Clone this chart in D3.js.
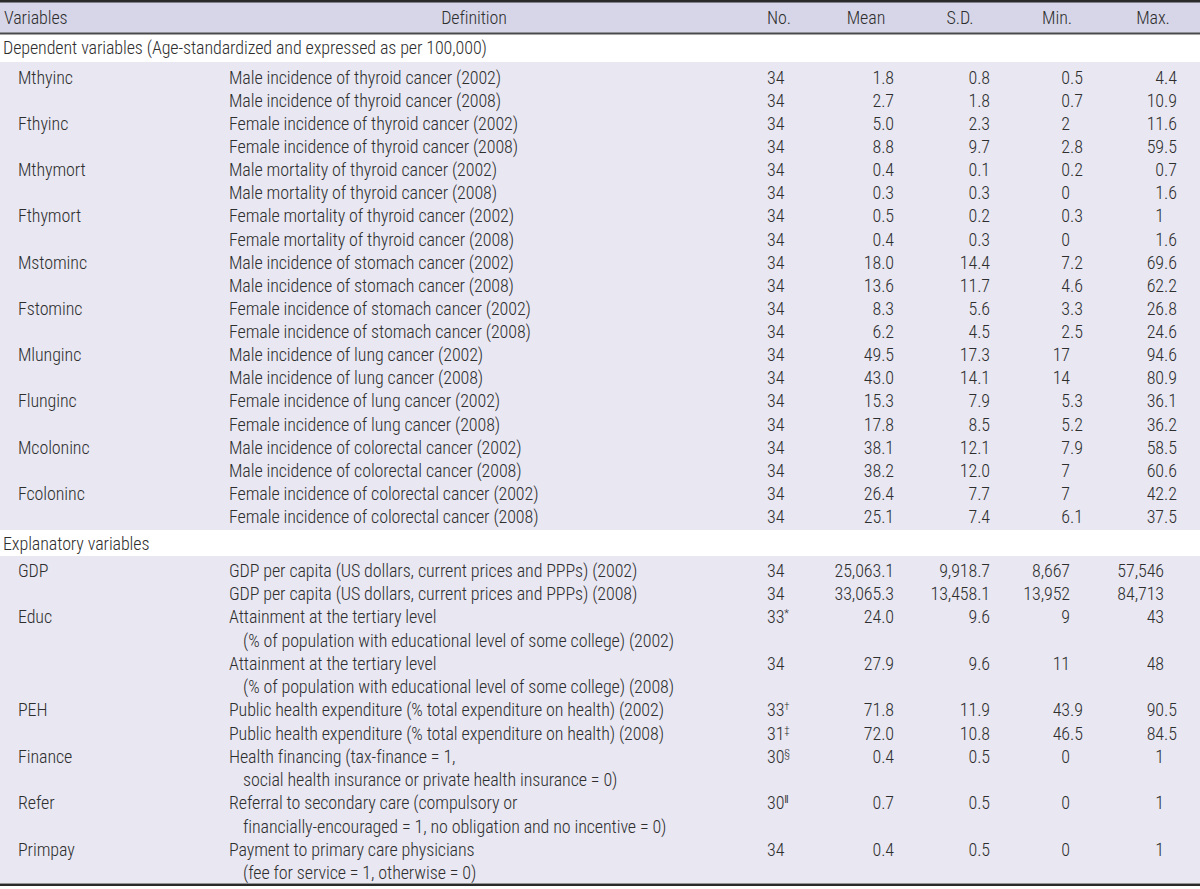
<!DOCTYPE html>
<html>
<head>
<meta charset="utf-8">
<script src="https://cdn.jsdelivr.net/npm/d3@7"></script>
<style>
  html, body { margin: 0; padding: 0; background: #ffffff; }
  svg { display: block; }
</style>
</head>
<body>
<svg id="chart" width="1200" height="889"></svg>
<script>
// ---------------- DATA ----------------
const headers = ["Variables", "Definition", "No.", "Mean", "S.D.", "Min.", "Max."];

const sectionTitles = [
  "Dependent variables (Age-standardized and expressed as per 100,000)",
  "Explanatory variables"
];

const rowSection = [
  0,0,0,0,0,0,0,0,0,0,0,0,0,0,0,0,0,0,0,0,
  1,1,1,1,1,1,1,1,1
];

const rowVariable = [
  "Mthyinc", "", "Fthyinc", "", "Mthymort", "", "Fthymort", "",
  "Mstominc", "", "Fstominc", "", "Mlunginc", "", "Flunginc", "",
  "Mcoloninc", "", "Fcoloninc", "",
  "GDP", "", "Educ", "", "PEH", "", "Finance", "Refer", "Primpay"
];

const rowDefinition = [
  "Male incidence of thyroid cancer (2002)",
  "Male incidence of thyroid cancer (2008)",
  "Female incidence of thyroid cancer (2002)",
  "Female incidence of thyroid cancer (2008)",
  "Male mortality of thyroid cancer (2002)",
  "Male mortality of thyroid cancer (2008)",
  "Female mortality of thyroid cancer (2002)",
  "Female mortality of thyroid cancer (2008)",
  "Male incidence of stomach cancer (2002)",
  "Male incidence of stomach cancer (2008)",
  "Female incidence of stomach cancer (2002)",
  "Female incidence of stomach cancer (2008)",
  "Male incidence of lung cancer (2002)",
  "Male incidence of lung cancer (2008)",
  "Female incidence of lung cancer (2002)",
  "Female incidence of lung cancer (2008)",
  "Male incidence of colorectal cancer (2002)",
  "Male incidence of colorectal cancer (2008)",
  "Female incidence of colorectal cancer (2002)",
  "Female incidence of colorectal cancer (2008)",
  "GDP per capita (US dollars, current prices and PPPs) (2002)",
  "GDP per capita (US dollars, current prices and PPPs) (2008)",
  "Attainment at the tertiary level\n(% of population with educational level of some college) (2002)",
  "Attainment at the tertiary level\n(% of population with educational level of some college) (2008)",
  "Public health expenditure (% total expenditure on health) (2002)",
  "Public health expenditure (% total expenditure on health) (2008)",
  "Health financing (tax-finance = 1,\nsocial health insurance or private health insurance = 0)",
  "Referral to secondary care (compulsory or\nfinancially-encouraged = 1, no obligation and no incentive = 0)",
  "Payment to primary care physicians\n(fee for service = 1, otherwise = 0)"
];

const rowN = [
  34,34,34,34,34,34,34,34,34,34,34,34,34,34,34,34,34,34,34,34,
  34,34,33,34,33,31,30,30,34
];

const rowNote = [
  "","","","","","","","","","","","","","","","","","","","",
  "","","*","","\u2020","\u2021","\u00A7","\u2016",""
];

const rowMean = [
  1.8, 2.7, 5.0, 8.8, 0.4, 0.3, 0.5, 0.4, 18.0, 13.6,
  8.3, 6.2, 49.5, 43.0, 15.3, 17.8, 38.1, 38.2, 26.4, 25.1,
  25063.1, 33065.3, 24.0, 27.9, 71.8, 72.0, 0.4, 0.7, 0.4
];

const rowSD = [
  0.8, 1.8, 2.3, 9.7, 0.1, 0.3, 0.2, 0.3, 14.4, 11.7,
  5.6, 4.5, 17.3, 14.1, 7.9, 8.5, 12.1, 12.0, 7.7, 7.4,
  9918.7, 13458.1, 9.6, 9.6, 11.9, 10.8, 0.5, 0.5, 0.5
];

const rowMin = [
  0.5, 0.7, 2, 2.8, 0.2, 0, 0.3, 0, 7.2, 4.6,
  3.3, 2.5, 17, 14, 5.3, 5.2, 7.9, 7, 7, 6.1,
  8667, 13952, 9, 11, 43.9, 46.5, 0, 0, 0
];

const rowMax = [
  4.4, 10.9, 11.6, 59.5, 0.7, 1.6, 1, 1.6, 69.6, 62.2,
  26.8, 24.6, 94.6, 80.9, 36.1, 36.2, 58.5, 60.6, 42.2, 37.5,
  57546, 84713, 43, 48, 90.5, 84.5, 1, 1, 1
];

// ---------------- LAYOUT ----------------
const W = 1200, H = 889;
const textColor = "#2e2e2e";
const headerFill = "#d7d6e8";
const bodyFill = "#e8e7f2";
const fontWeight = 300;

const svg = d3.select("#chart");

// font selection (measure which condensed family is installed)
const probe = svg.append("text").attr("x", -2000).attr("y", -2000)
  .style("font-size", "20px").style("font-weight", fontWeight);
function widthIn(fam, s) {
  probe.style("font-family", fam).text(s);
  return probe.node().getComputedTextLength();
}
const refString = "Male incidence of thyroid cancer (2002)";
const refWidth = 272;
const candidates = ["Liberation Sans Narrow", "Arial Narrow", "Roboto Condensed", "DejaVu Sans Condensed"];
let fam = null;
const mono = widthIn("monospace", refString);
for (const c of candidates) {
  const a = widthIn(`'${c}', monospace`, refString);
  if (Math.abs(a - mono) > 0.5) { fam = c; break; }
}
let fontSize, letterSpacing = 0;
if (fam) {
  fontSize = 18;
  const w = widthIn(`'${fam}'`, refString) * fontSize / 20;
  letterSpacing = Math.max(-0.6, Math.min(1.0, (refWidth - w) / refString.length));
} else {
  fam = "Liberation Sans";
  fontSize = 20 * refWidth / widthIn(`'${fam}'`, refString);
}
probe.remove();
const fontFamily = `'${fam}', 'Liberation Sans', Arial, sans-serif`;

const root = svg.append("g")
  .style("font-family", fontFamily)
  .style("font-size", fontSize + "px")
  .style("font-weight", fontWeight)
  .style("letter-spacing", letterSpacing + "px")
  .attr("fill", textColor);

// line index inside each section block
const rowLines = rowDefinition.map(d => d.split("\n"));
const rowLineIndex = [];
const counters = [0, 0];
rowDefinition.forEach((d, i) => {
  rowLineIndex.push(counters[rowSection[i]]);
  counters[rowSection[i]] += rowLines[i].length;
});

// vertical scales for each block
const yBlock = [
  d3.scaleLinear().domain([0, counters[0] - 1]).range([77.4, 516.8]),
  d3.scaleLinear().domain([0, counters[1] - 1]).range([570.5, 873])
];
const blockBg = [[62, 530], [556, 883]];
const sectionY = [47.5, 543.5];

// column x positions
const xVar = 18, xSection = 3, xDef = 229, xDefIndent = 243, xN = 767;
const headerPos = [
  { x: 4, anchor: "start" },
  { x: 474, anchor: "middle" },
  { x: 767, anchor: "start" },
  { x: 866, anchor: "middle" },
  { x: 960, anchor: "middle" },
  { x: 1057, anchor: "middle" },
  { x: 1153, anchor: "middle" }
];

// backgrounds
svg.insert("rect", ":first-child").attr("x", 0).attr("y", 2).attr("width", W).attr("height", 31).attr("fill", headerFill);
blockBg.forEach(b => {
  svg.insert("rect", "g").attr("x", 0).attr("y", b[0]).attr("width", W).attr("height", b[1] - b[0]).attr("fill", bodyFill);
});

// rules
svg.append("line").attr("x1", 0).attr("x2", W).attr("y1", 1.2).attr("y2", 1.2).attr("stroke", "#2a2a2a").attr("stroke-width", 2.4);
svg.append("line").attr("x1", 0).attr("x2", W).attr("y1", 33.5).attr("y2", 33.5).attr("stroke", "#4a4a4a").attr("stroke-width", 1.8);
svg.append("line").attr("x1", 0).attr("x2", W).attr("y1", 884.8).attr("y2", 884.8).attr("stroke", "#2a2a2a").attr("stroke-width", 2.6);

// header
root.selectAll("text.hdr").data(headers).join("text")
  .attr("class", "hdr")
  .attr("x", (d, i) => headerPos[i].x)
  .attr("y", 18)
  .attr("dy", "0.35em")
  .attr("text-anchor", (d, i) => headerPos[i].anchor)
  .text(d => d);

// section titles
root.selectAll("text.sec").data(sectionTitles).join("text")
  .attr("class", "sec")
  .attr("x", xSection)
  .attr("y", (d, i) => sectionY[i])
  .attr("dy", "0.35em")
  .text(d => d);

const rows = d3.range(rowDefinition.length);
const rowY = i => yBlock[rowSection[i]](rowLineIndex[i]);

// variable names
root.selectAll("text.var").data(rows.filter(i => rowVariable[i] !== "")).join("text")
  .attr("class", "var")
  .attr("x", xVar)
  .attr("y", rowY)
  .attr("dy", "0.35em")
  .text(i => rowVariable[i]);

// definitions (multi-line)
rows.forEach(i => {
  rowLines[i].forEach((ln, k) => {
    root.append("text")
      .attr("x", k === 0 ? xDef : xDefIndent)
      .attr("y", yBlock[rowSection[i]](rowLineIndex[i] + k))
      .attr("dy", "0.35em")
      .text(ln);
  });
});

// N with footnote marks
const nText = root.selectAll("text.n").data(rows).join("text")
  .attr("class", "n")
  .attr("x", xN)
  .attr("y", rowY)
  .attr("dy", "0.35em")
  .text(i => rowN[i]);
nText.filter(i => rowNote[i] !== "")
  .append("tspan")
  .attr("dy", -6)
  .style("font-size", (fontSize * 0.6) + "px")
  .text(i => rowNote[i]);

// decimal-aligned numeric columns
const fmt1 = d3.format(",.1f");
const fmtG = d3.format(",");
const fracW = (() => {
  const t = root.append("text").text(".0");
  const w = t.node().getComputedTextLength();
  t.remove();
  return w;
})();
const numCols = [
  { values: rowMean, fmt: fmt1, anchor: 894 - fracW },
  { values: rowSD, fmt: fmt1, anchor: 990 - fracW },
  { values: rowMin, fmt: fmtG, anchor: 1070 },
  { values: rowMax, fmt: fmtG, anchor: 1164 }
];
numCols.forEach(col => {
  const g = root.append("g");
  rows.forEach(i => {
    const s = col.fmt(col.values[i]);
    const p = s.indexOf(".");
    const intPart = p < 0 ? s : s.slice(0, p);
    const fracPart = p < 0 ? "" : s.slice(p);
    g.append("text").attr("x", col.anchor).attr("y", rowY(i)).attr("dy", "0.35em")
      .attr("text-anchor", "end").text(intPart);
    if (fracPart) {
      g.append("text").attr("x", col.anchor).attr("y", rowY(i)).attr("dy", "0.35em")
        .attr("text-anchor", "start").text(fracPart);
    }
  });
});
</script>
</body>
</html>
